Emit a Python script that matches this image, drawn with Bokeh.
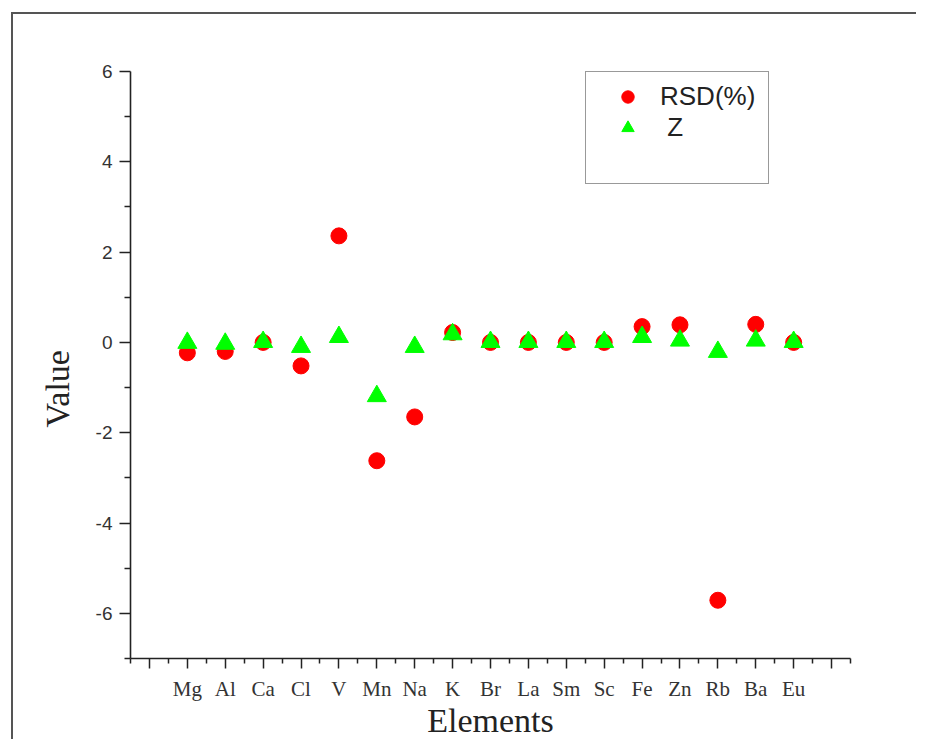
from bokeh.plotting import figure
from bokeh.models import Range1d, FixedTicker, Legend, LegendItem, Title
from bokeh.embed import file_html
from bokeh.resources import INLINE

elements = ["Mg", "Al", "Ca", "Cl", "V", "Mn", "Na", "K", "Br", "La",
            "Sm", "Sc", "Fe", "Zn", "Rb", "Ba", "Eu"]
rsd = [-0.23, -0.20, 0.00, -0.52, 2.36, -2.62, -1.65, 0.22, 0.00, 0.00,
       0.00, 0.00, 0.35, 0.39, -5.71, 0.40, 0.00]
z = [-0.01, -0.03, 0.01, -0.10, 0.12, -1.19, -0.10, 0.18, 0.01, 0.01,
     0.01, 0.01, 0.12, 0.04, -0.21, 0.04, 0.01]
y_ticks = [-6, -4, -2, 0, 2, 4, 6]
y_minor = [-7, -5, -3, -1, 1, 3, 5]

xs = list(range(1, len(elements) + 1))
x_major = list(range(0, len(elements) + 2))
x_minor = [v - 0.5 for v in x_major] + [x_major[-1] + 0.5]

SERIF = "Liberation Serif"
SANS = "Liberation Sans"
TXT = "#222222"

p = figure(width=905, height=727, output_backend="svg", toolbar_location=None,
           x_range=Range1d(-0.5, 18.5), y_range=Range1d(-7, 6),
           min_border_left=117, min_border_right=68, min_border_top=57,
           min_border_bottom=83)
p.margin = (12, 0, 0, 11)
p.styles = {"border-top": "2px solid #555555", "border-left": "2px solid #555555"}
p.outline_line_color = None
p.xgrid.visible = False
p.ygrid.visible = False
p.background_fill_color = "white"
p.border_fill_color = "white"

r1 = p.scatter(xs, rsd, marker="circle", size=16, fill_color="#ff0000",
               line_color="#ff0000")
r2 = p.scatter(xs, z, marker="triangle", size=19, fill_color="#00ff00",
               line_color="#00ff00")
r3 = p.scatter([], [], marker="circle", size=1, fill_alpha=0, line_alpha=0)

# x axis
xa = p.xaxis[0]
xa.ticker = FixedTicker(ticks=x_major, minor_ticks=x_minor)
overrides = {v: "" for v in x_major}
for i, name in zip(xs, elements):
    overrides[i] = name
xa.major_label_overrides = overrides
xa.axis_label = "Elements"
xa.axis_label_text_font = SERIF
xa.axis_label_text_font_size = "34px"
xa.axis_label_text_font_style = "normal"
xa.axis_label_text_color = TXT
xa.axis_label_standoff = -2
xa.major_label_text_font = SERIF
xa.major_label_text_font_size = "21px"
xa.major_label_text_color = "#333333"
xa.major_label_standoff = 8
xa.axis_line_color = "#222222"
xa.axis_line_width = 1.6
xa.major_tick_line_color = "#222222"
xa.major_tick_line_width = 1.5
xa.minor_tick_line_color = "#222222"
xa.minor_tick_line_width = 1.5
xa.major_tick_in = 0
xa.major_tick_out = 10
xa.minor_tick_in = 0
xa.minor_tick_out = 5

# y axis
ya = p.yaxis[0]
ya.ticker = FixedTicker(ticks=y_ticks, minor_ticks=y_minor)
ya.major_label_overrides = {v: str(v) for v in y_ticks}
ya.major_label_text_font = SANS
ya.major_label_text_font_size = "19px"
ya.major_label_text_color = "#333333"
ya.major_label_standoff = 7
ya.axis_line_color = "#222222"
ya.axis_line_width = 1.6
ya.major_tick_line_color = "#222222"
ya.major_tick_line_width = 1.5
ya.minor_tick_line_color = "#222222"
ya.minor_tick_line_width = 1.5
ya.major_tick_in = 0
ya.major_tick_out = 11
ya.minor_tick_in = 0
ya.minor_tick_out = 6

ytitle = Title(text="Value", align="left", offset=231,
               text_font=SERIF, text_font_size="34px",
               text_font_style="normal", text_color=TXT)
if "standoff" in Title.properties():
    ytitle.standoff = 34
p.add_layout(ytitle, "left")

legend = Legend(items=[LegendItem(label="RSD(%)", renderers=[r1]),
                       LegendItem(label=" Z", renderers=[r2]),
                       LegendItem(label=" ", renderers=[r3])],
                location=(455, 474))
legend.padding = 9
legend.margin = 0
legend.glyph_width = 65
legend.glyph_height = 31
legend.label_height = 31
legend.label_width = 99
legend.label_standoff = 0
legend.spacing = 0
legend.label_text_font = SANS
legend.label_text_font_size = "26px"
legend.label_text_color = TXT
legend.border_line_color = "#333333"
legend.border_line_width = 1.6
legend.background_fill_color = "white"
legend.background_fill_alpha = 1.0
p.add_layout(legend, "center")

open("out.html", "w").write(file_html(p, INLINE))
